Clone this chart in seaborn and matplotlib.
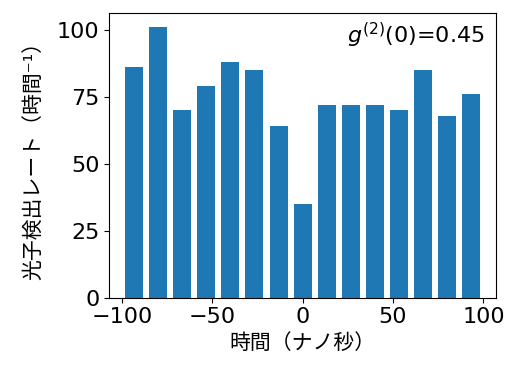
import matplotlib
matplotlib.use("Agg")
import matplotlib.pyplot as plt
import seaborn as sns
import numpy as np
import pandas as pd

# time bin centres (ns) and detection rates
time_ns = [-93.3, -80.0, -66.7, -53.3, -40.0, -26.7, -13.3, 0.0,
           13.3, 26.7, 40.0, 53.3, 66.7, 80.0, 93.3]
rate = [86, 101, 70, 79, 88, 85, 64, 35, 72, 72, 72, 70, 85, 68, 76]
g2_zero = 0.45

plt.rcParams['font.family'] = ['DejaVu Sans', 'Noto Sans CJK JP']
plt.rcParams['font.size'] = 16

df = pd.DataFrame({"time": time_ns, "rate": rate})

fig = plt.figure(figsize=(5.2, 3.78), dpi=100)
ax = fig.add_axes([0.21, 0.2125, 0.744, 0.752])
sns.barplot(data=df, x="time", y="rate", native_scale=True, width=0.75,
            color="#1f77b4", saturation=1, ax=ax)

ax.set_xticks([-100, -50, 0, 50, 100])
ax.set_yticks([0, 25, 50, 75, 100])
ax.set_xlim(-107, 107)
ax.set_ylim(0, 106.2)
ax.set_xlabel("時間（ナノ秒）", fontsize=15)
# unicode superscript so the CJK fallback still works (mathtext would break it)
ax.set_ylabel("光子検出レート（時間⁻¹）", fontsize=15, labelpad=10)
ax.text(0.97, 0.975, f"$g^{{(2)}}(0)$={g2_zero}", transform=ax.transAxes,
        ha="right", va="top")

fig.savefig("out.png", dpi=100)
